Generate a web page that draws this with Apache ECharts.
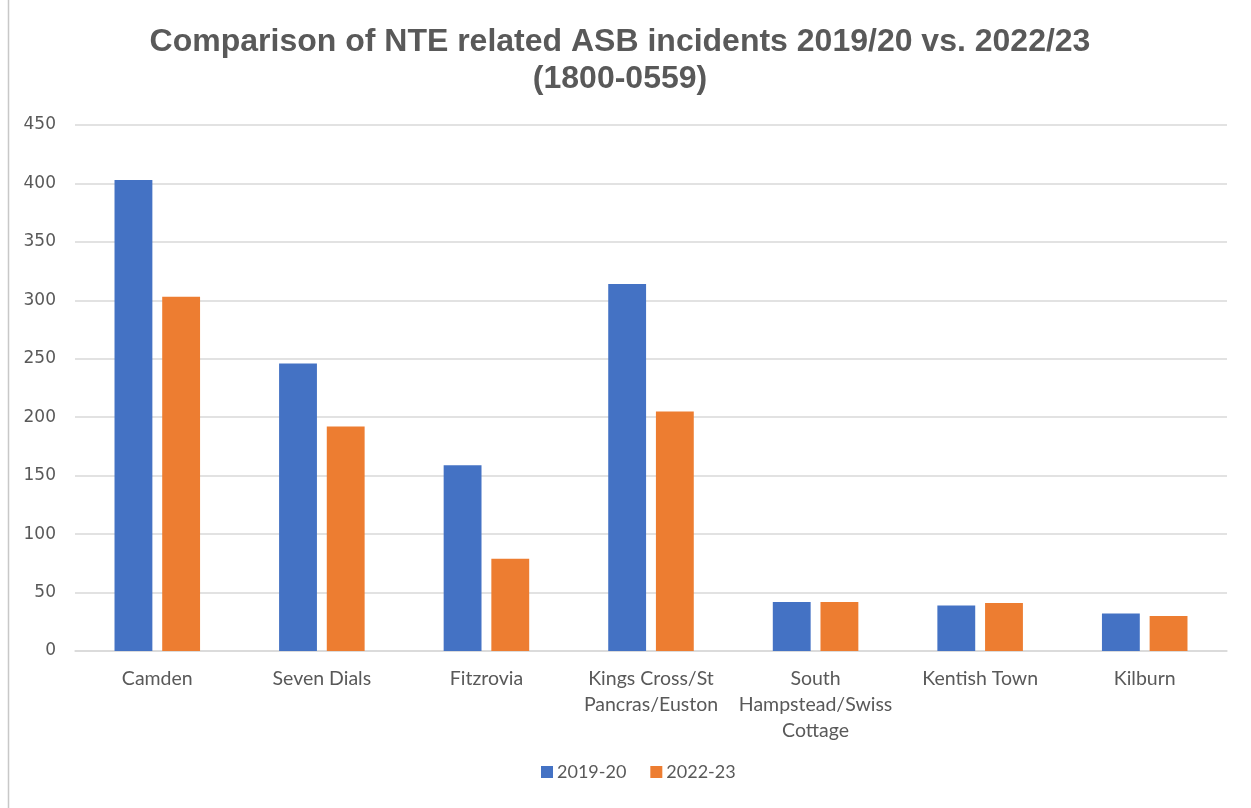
<!DOCTYPE html>
<html>
<head>
<meta charset="utf-8">
<title>NTE related ASB incidents</title>
<script src="https://cdn.jsdelivr.net/npm/echarts@6/dist/echarts.min.js"></script>
<style>
  html, body { margin: 0; padding: 0; background: #ffffff; }
  #chart { width: 1251px; height: 808px; }
</style>
</head>
<body>
<div id="chart"></div>
<script>
// Night-time economy related ASB incidents by area (1800-0559)
const areas = [
  'Camden',
  'Seven Dials',
  'Fitzrovia',
  'Kings Cross/St Pancras/Euston',
  'South Hampstead/Swiss Cottage',
  'Kentish Town',
  'Kilburn'
];
// how the longer area names wrap under the axis
const areaLabelLines = {
  'Kings Cross/St Pancras/Euston': ['Kings Cross/St', 'Pancras/Euston'],
  'South Hampstead/Swiss Cottage': ['South', 'Hampstead/Swiss', 'Cottage']
};
const incidents2019 = [403, 246, 159, 314, 42, 39, 32];
const incidents2022 = [303, 192, 79, 205, 42, 41, 30];
const seriesNames = ['2019-20', '2022-23'];
const yTicks = { min: 0, max: 450, step: 50 };

const labelFont = 'Lato, sans-serif';
const textGrey = '#595959';

const chart = echarts.init(document.getElementById('chart'), null, { renderer: 'canvas' });

chart.setOption({
  backgroundColor: '#ffffff',
  animation: false,
  title: {
    text: 'Comparison of NTE related ASB incidents 2019/20 vs. 2022/23\n(1800-0559)',
    left: 615,
    top: 19,
    textAlign: 'center',
    textStyle: {
      fontFamily: '"Liberation Sans", Arial, sans-serif',
      fontWeight: 'bold',
      fontSize: 32,
      lineHeight: 37,
      color: textGrey
    }
  },
  legend: {
    data: seriesNames,
    bottom: 22,
    left: 536,
    icon: 'rect',
    itemWidth: 12,
    itemHeight: 12,
    itemGap: 24,
    textStyle: { fontFamily: labelFont, fontSize: 18, color: textGrey, padding: [0, 0, 0, -1] }
  },
  grid: { left: 75, right: 24, top: 125, bottom: 157, containLabel: false },
  xAxis: {
    type: 'category',
    data: areas,
    axisLine: { show: true, lineStyle: { color: '#d9d9d9', width: 1.5 } },
    axisTick: { show: false },
    axisLabel: {
      interval: 0,
      margin: 15,
      fontFamily: labelFont,
      fontSize: 19.5,
      lineHeight: 26,
      color: textGrey,
      formatter: (name) => (areaLabelLines[name] || [name]).join('\n')
    }
  },
  yAxis: {
    type: 'value',
    min: yTicks.min,
    max: yTicks.max,
    interval: yTicks.step,
    axisLine: { show: false },
    axisTick: { show: false },
    splitLine: { lineStyle: { color: '#d9d9d9', width: 1.5 } },
    axisLabel: {
      margin: 19,
      fontFamily: '"DejaVu Sans", sans-serif',
      fontSize: 17,
      color: textGrey
    }
  },
  series: [
    {
      name: seriesNames[0],
      type: 'bar',
      data: incidents2019,
      barWidth: '23%',
      barGap: '26%',
      itemStyle: { color: '#4472C4' }
    },
    {
      name: seriesNames[1],
      type: 'bar',
      data: incidents2022,
      barWidth: '23%',
      itemStyle: { color: '#ED7D31' }
    }
  ],
  graphic: [
    {
      type: 'line',
      shape: { x1: 8.5, y1: 0, x2: 8.5, y2: 808 },
      style: { stroke: '#c8c8c8', lineWidth: 1.5 }
    }
  ]
});
</script>
</body>
</html>
